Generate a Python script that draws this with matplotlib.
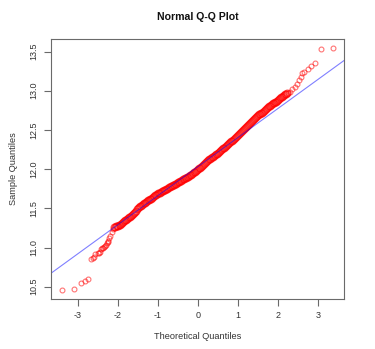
import matplotlib
matplotlib.use("Agg")
import matplotlib.pyplot as plt

plt.rcParams['font.family'] = ['Liberation Sans', 'DejaVu Sans']

# Lower tail points (theoretical, sample)
lower_theo = [-3.40, -3.09, -2.925, -2.83, -2.75, -2.67, -2.63, -2.59, -2.57, -2.51,
              -2.47, -2.45, -2.425, -2.40, -2.37, -2.35, -2.33, -2.30, -2.28, -2.26,
              -2.24, -2.22, -2.19, -2.16, -2.125]
lower_samp = [10.458, 10.467, 10.543, 10.573, 10.594, 10.858, 10.862, 10.875, 10.914, 10.927,
              10.935, 10.947, 10.978, 10.990, 11.000, 11.005, 11.020, 11.035, 11.055, 11.070,
              11.088, 11.118, 11.150, 11.195, 11.233]

# Central dense band (theoretical, sample)
band_theo = [-2.100, -2.075, -2.050, -2.025, -2.000, -1.975, -1.950, -1.925, -1.900, -1.875,
             -1.850, -1.825, -1.800, -1.775, -1.750, -1.725, -1.700, -1.675, -1.650, -1.625,
             -1.600, -1.575, -1.550, -1.525, -1.500, -1.475, -1.450, -1.425, -1.400, -1.375,
             -1.350, -1.325, -1.300, -1.275, -1.250, -1.225, -1.200, -1.175, -1.150, -1.125,
             -1.100, -1.075, -1.050, -1.025, -1.000, -0.975, -0.950, -0.925, -0.900, -0.875,
             -0.850, -0.825, -0.800, -0.775, -0.750, -0.725, -0.700, -0.675, -0.650, -0.625,
             -0.600, -0.575, -0.550, -0.525, -0.500, -0.475, -0.450, -0.425, -0.400, -0.375,
             -0.350, -0.325, -0.300, -0.275, -0.250, -0.225, -0.200, -0.175, -0.150, -0.125,
             -0.100, -0.075, -0.050, -0.025, 0.000, 0.025, 0.050, 0.075, 0.100, 0.125,
             0.150, 0.175, 0.200, 0.225, 0.250, 0.275, 0.300, 0.325, 0.350, 0.375,
             0.400, 0.425, 0.450, 0.475, 0.500, 0.525, 0.550, 0.575, 0.600, 0.625,
             0.650, 0.675, 0.700, 0.725, 0.750, 0.775, 0.800, 0.825, 0.850, 0.875,
             0.900, 0.925, 0.950, 0.975, 1.000, 1.025, 1.050, 1.075, 1.100, 1.125,
             1.150, 1.175, 1.200, 1.225, 1.250, 1.275, 1.300, 1.325, 1.350, 1.375,
             1.400, 1.425, 1.450, 1.475, 1.500, 1.525, 1.550, 1.575, 1.600, 1.625,
             1.650, 1.675, 1.700, 1.725, 1.750, 1.775, 1.800, 1.825, 1.850, 1.875,
             1.900, 1.925, 1.950, 1.975, 2.000, 2.025, 2.050, 2.075, 2.100, 2.125,
             2.150, 2.175, 2.200, 2.225]
band_samp = [11.262, 11.265, 11.270, 11.275, 11.280, 11.285, 11.292, 11.300, 11.310, 11.322,
             11.335, 11.345, 11.355, 11.365, 11.375, 11.384, 11.394, 11.405, 11.418, 11.432,
             11.445, 11.458, 11.472, 11.487, 11.500, 11.513, 11.525, 11.535, 11.545, 11.555,
             11.565, 11.574, 11.582, 11.591, 11.600, 11.607, 11.615, 11.625, 11.635, 11.645,
             11.655, 11.664, 11.672, 11.681, 11.690, 11.695, 11.700, 11.708, 11.715, 11.722,
             11.730, 11.738, 11.745, 11.752, 11.760, 11.766, 11.772, 11.780, 11.787, 11.794,
             11.800, 11.808, 11.815, 11.822, 11.830, 11.838, 11.845, 11.853, 11.862, 11.870,
             11.878, 11.886, 11.893, 11.899, 11.905, 11.912, 11.920, 11.930, 11.940, 11.950,
             11.960, 11.969, 11.978, 11.988, 11.998, 12.009, 12.020, 12.032, 12.045, 12.058,
             12.070, 12.080, 12.090, 12.100, 12.110, 12.123, 12.135, 12.143, 12.150, 12.159,
             12.168, 12.178, 12.188, 12.199, 12.210, 12.221, 12.232, 12.244, 12.255, 12.265,
             12.275, 12.287, 12.298, 12.309, 12.320, 12.333, 12.345, 12.355, 12.365, 12.375,
             12.385, 12.398, 12.410, 12.423, 12.435, 12.448, 12.460, 12.473, 12.485, 12.498,
             12.510, 12.523, 12.535, 12.548, 12.560, 12.573, 12.585, 12.598, 12.610, 12.622,
             12.635, 12.650, 12.665, 12.678, 12.690, 12.698, 12.705, 12.711, 12.718, 12.728,
             12.740, 12.755, 12.770, 12.783, 12.795, 12.803, 12.810, 12.820, 12.830, 12.838,
             12.845, 12.852, 12.860, 12.870, 12.880, 12.892, 12.905, 12.915, 12.925, 12.935,
             12.945, 12.953, 12.960, 12.965]

# Upper tail points
upper_theo = [2.25, 2.30, 2.36, 2.425, 2.48, 2.53, 2.57, 2.59, 2.65, 2.74, 2.82, 2.92, 3.075, 3.38]
upper_samp = [12.970, 12.983, 13.016, 13.047, 13.089, 13.131, 13.174, 13.220, 13.238, 13.280,
              13.315, 13.348, 13.527, 13.540]

# Reference line (qqline)
line_intercept = 12.033
line_slope = 0.3705

x_ticks = [-3, -2, -1, 0, 1, 2, 3]
y_ticks = [10.5, 11.0, 11.5, 12.0, 12.5, 13.0, 13.5]
y_tick_labels = ["10.5", "11.0", "11.5", "12.0", "12.5", "13.0", "13.5"]

tail_theo = lower_theo + upper_theo
tail_samp = lower_samp + upper_samp

fig = plt.figure(figsize=(3.75, 3.49), dpi=100)
ax = fig.add_axes([51/375, 1 - 299/349, (344 - 51)/375, (299 - 39)/349])

pt_color = (1, 0, 0, 0.6)
ax.plot(band_theo, band_samp, linestyle='none', marker='o', markersize=4.8,
        markerfacecolor='none', markeredgecolor=pt_color, markeredgewidth=1.0)
ax.plot(tail_theo, tail_samp, linestyle='none', marker='o', markersize=3.5,
        markerfacecolor='none', markeredgecolor=(1, 0, 0, 0.55), markeredgewidth=0.8)
ax.axline((0, line_intercept), slope=line_slope, color=(0, 0, 1, 0.5), linewidth=0.8)

ax.set_xlim(-3.675, 3.65)
ax.set_ylim(10.343, 13.66)
ax.set_xticks(x_ticks)
ax.set_xticklabels([str(t) for t in x_ticks])
ax.set_yticks(y_ticks)
ax.set_yticklabels(y_tick_labels, rotation=90, va='center')

edge = '#6a6a6a'
for s in ax.spines.values():
    s.set_color(edge)
    s.set_linewidth(0.8)
ax.tick_params(direction='out', length=5, width=0.8, color=edge, labelsize=6.5,
               labelcolor='#333333', pad=4)

ax.set_xlabel("Theoretical Quantiles", fontsize=6.6, color='#333333', labelpad=8)
ax.set_ylabel("Sample Quantiles", fontsize=6.6, color='#333333', labelpad=8)
fig.text(197.5/375, 1 - 17/349, "Normal Q-Q Plot", ha='center', va='center',
         fontsize=7.6, fontweight='bold', color='#111111')

fig.savefig("out.png", dpi=100)
